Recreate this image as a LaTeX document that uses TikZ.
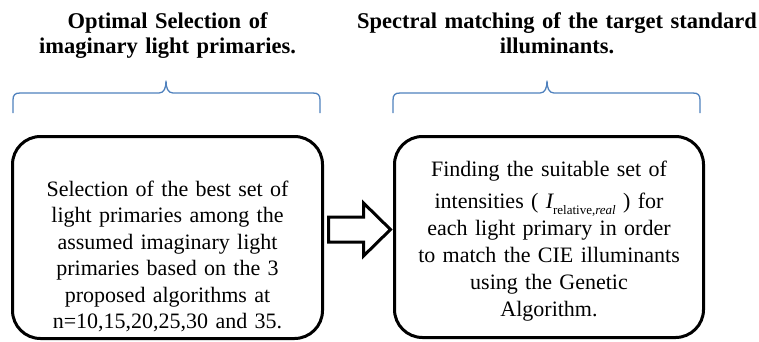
\documentclass[tikz,border=0pt]{standalone}
\usepackage{fontspec}
\setmainfont{Liberation Serif}
\definecolor{braceblue}{RGB}{79,129,189}
\tikzset{
  box/.style={draw, line width=3pt, rounded corners=28pt, inner sep=0pt},
  titletext/.style={font=\bfseries\fontsize{22.5}{25}\selectfont, align=center, text width=430pt, anchor=base, inner sep=0pt},
  bodytext/.style={font=\fontsize{22}{26.5}\selectfont, align=center, text width=300pt, anchor=base, inner sep=0pt},
  bracepath/.style={draw=braceblue, line width=1.3pt, line join=round},
  blockarrow/.style={draw, line width=3pt, fill=white, line join=miter}
}
\begin{document}
\begin{tikzpicture}[x=1pt,y=-1pt]
\useasboundingbox (0,0) rectangle (759,341);
% titles
\node[titletext] (T1) at (167.5,28) {Optimal Selection of\\imaginary light primaries.};
\node[titletext] (T2) at (557,28) {Spectral matching of the target standard\\illuminants.};
% braces
\draw[bracepath] (13,113) -- (13,100) .. controls (13,95) and (15,93) .. (20,93) -- (159,93)
  .. controls (164,93) and (166,88) .. (166,81) .. controls (166,88) and (168,93) .. (173,93)
  -- (313,93) .. controls (318,93) and (320,95) .. (320,100) -- (320,113);
\draw[bracepath] (393,113) -- (393,100) .. controls (393,95) and (395,93) .. (400,93) -- (540,93)
  .. controls (545,93) and (547,88) .. (547,81) .. controls (547,88) and (549,93) .. (554,93)
  -- (693,93) .. controls (698,93) and (700,95) .. (700,100) -- (700,113);
% boxes
\node[box, minimum width=310pt, minimum height=202pt] (L) at (167.5,237.5) {};
\node[box, minimum width=309pt, minimum height=201pt] (R) at (549,237) {};
% box texts
\node[bodytext] (Lt) at (167.5,196) {Selection of the best set of\\light primaries among the\\assumed imaginary light\\primaries based on the 3\\proposed algorithms at\\n=10,15,20,25,30 and 35.};
\node[bodytext, font=\fontsize{22}{27}\selectfont] (Rt) at (549,176) {Finding the suitable set of\\[5pt]intensities (\ {\itshape I}\raisebox{-6pt}{\fontsize{13}{13}\selectfont relative,\textit{real}}\ ) for\\each light primary in order\\to match the CIE illuminants\\using the Genetic\\Algorithm.};
% block arrow between boxes
\draw[blockarrow, shift={(L.east)}] (4.5,-20.5) -- (39.5,-20.5) -- (39.5,-34.5) -- (66.5,-8)
  -- (39.5,18.5) -- (39.5,4.5) -- (4.5,4.5) -- cycle;
\end{tikzpicture}
\end{document}
